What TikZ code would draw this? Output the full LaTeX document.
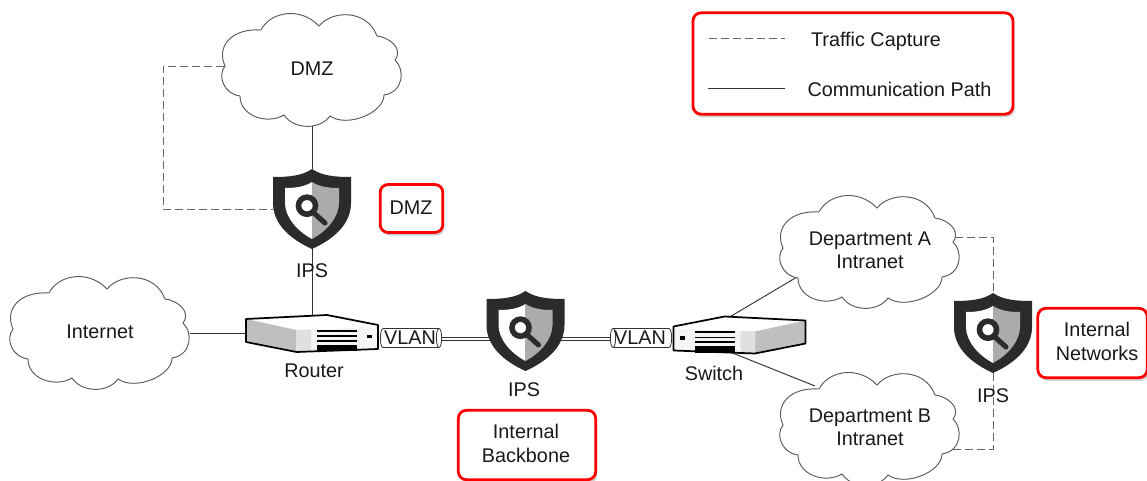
\documentclass[tikz,border=0pt]{standalone}
\usepackage{fontspec}
\setmainfont{Liberation Sans}
\usetikzlibrary{backgrounds, shadows}

\definecolor{shielddark}{HTML}{2B2B2B}
\definecolor{shieldgrey}{HTML}{ABABAB}

\tikzset{
    commpath/.style={draw=black!80, line width=0.7pt},
    tappath/.style={draw=black!60, line width=0.7pt, dash pattern=on 6pt off 3pt},
    tagtext/.style={font=\fontsize{14.85}{17.6}\selectfont, text=black!90, align=center, inner sep=0pt},
    redbox/.style={draw=red, line width=2.1pt, rounded corners=6pt, fill=white,
        drop shadow={shadow xshift=1.2pt, shadow yshift=-2.4pt, fill=black, opacity=0.18}},
    cloudline/.style={draw=black!65, line width=0.7pt, fill=white},
    devicebox/.style={minimum width=99pt, minimum height=27.5pt, inner sep=0pt},
    shieldbox/.style={minimum width=58.5pt, minimum height=60pt, inner sep=0pt},
    cloudbox/.style={tagtext, minimum width=135pt, minimum height=85pt},
}

% cloud with its text: name, x, y, text
\newcommand{\netcloud}[4]{
    \begin{scope}[shift={(#2,#3)}]
        \path[cloudline] (-51,-38) .. controls (-42,-56) and (-12,-62) .. (7,-42)
            .. controls (20,-58) and (55,-59) .. (65,-32)
            .. controls (76,-31) and (92,-20) .. (83,-8)
            .. controls (93,1) and (92,24) .. (72,27)
            .. controls (72,45) and (35,60) .. (18,48)
            .. controls (8,62) and (-18,62) .. (-28,47)
            .. controls (-45,57) and (-72,48) .. (-72,28)
            .. controls (-88,26) and (-95,8) .. (-87,-2)
            .. controls (-96,-22) and (-80,-40) .. (-51,-38) -- cycle;
        \node[cloudbox] (#1) at (0,0.5) {#4};
    \end{scope}
}

% shield with magnifier: name, x, y
\newcommand{\ipsshield}[3]{
    \begin{scope}[shift={(#2,#3)}]
        \fill[shielddark] (0,-40) .. controls (-10,-33) and (-24,-32) .. (-39,-32)
            -- (-39,-6) .. controls (-39,15) and (-22,30) .. (0,40)
            .. controls (22,30) and (39,15) .. (39,-6)
            -- (39,-32) .. controls (24,-32) and (10,-33) .. (0,-40) -- cycle;
        \fill[white] (0,-27) .. controls (-8,-22) and (-17,-21) .. (-27,-21)
            -- (-27,-6) .. controls (-27,8) and (-15,22) .. (0,30) -- cycle;
        \fill[shieldgrey] (0,-27) .. controls (8,-22) and (17,-21) .. (27,-21)
            -- (27,-6) .. controls (27,8) and (15,22) .. (0,30) -- cycle;
        \draw[shielddark, line width=3.8pt, line cap=round] (3,5) -- (13,14);
        \draw[shielddark, line width=4.2pt, fill=white] (-5,-3.3) circle (6.4pt);
        \node[shieldbox] (#1) at (0,0) {};
    \end{scope}
}

% router or switch box: name, x, y, 1 or -1 for the side it faces
\newcommand{\netdevice}[4]{
    \begin{scope}[shift={(#2,#3)}, xscale=#4]
        \fill[white] (-66,-14.5) -- (15,-18.5) -- (66,-8.5) -- (66,-6.5) -- (-15.5,-3.5) -- cycle;
        \fill[black!25] (-66,-14.5) -- (-15.5,-3.5) -- (-15.5,18.5) -- (-66,8.5) -- cycle;
        \fill[black!4] (-15.5,-3.5) -- (66,-6.5) -- (66,15.5) -- (-15.5,18.5) -- cycle;
        \fill[black!12] (-15.5,-3.5) -- (-1,-4) -- (-1,18) -- (-15.5,18.5) -- cycle;
        \fill[black] (5,-4) rectangle (45,-2);
        \fill[black] (5,1.5) rectangle (45,3);
        \fill[black] (5,6) rectangle (45,8);
        \fill[black] (5,11) rectangle (45,17.5);
        \fill[black] (55,1) rectangle (60,4.5);
        \draw[black, line width=1.3pt, line join=round] (-66,-14.5) -- (15,-18.5) -- (66,-8.5)
            -- (66,15.5) -- (-15.5,18.5) -- (-66,8.5) -- cycle;
        \node[devicebox] (#1) at (0,0) {};
    \end{scope}
}

% VLAN tube: name, x, y, 1 or -1 for the end that shows its ring
\newcommand{\vlantube}[4]{
    \begin{scope}[shift={(#2,#3)}, xscale=#4]
        \draw[black!80, line width=0.6pt, fill=white] (28,-9.5)
            arc[start angle=90, end angle=-90, x radius=2pt, y radius=7.1pt]
            -- (-28,9.5)
            arc[start angle=270, end angle=90, x radius=2pt, y radius=7.1pt] -- cycle;
        \draw[black!80, line width=0.6pt] (28,-9.5)
            arc[start angle=90, end angle=270, x radius=2pt, y radius=7.1pt];
    \end{scope}
    \node[tagtext] (#1) at (#2-1,#3) {VLAN};
}

\begin{document}
\begin{tikzpicture}[x=0.75pt, y=-0.75pt]
    \useasboundingbox (0,0) rectangle (1147,481);

    % Clouds
    \netcloud{dmzcloud}{312}{68}{DMZ}
    \netcloud{internet}{100}{331}{Internet}
    \netcloud{depta}{870}{250}{Department A\\Intranet}
    \netcloud{deptb}{870}{427}{Department B\\Intranet}

    % Devices
    \netdevice{router}{312}{333.5}{1}
    \netdevice{switch}{739.5}{335}{-1}
    \ipsshield{ipsdmz}{312}{209}
    \ipsshield{ipscore}{525.5}{331}
    \ipsshield{ipslan}{993}{333}
    \vlantube{vlanleft}{411}{338}{1}
    \vlantube{vlanright}{641}{338}{-1}

    % Device labels
    \node[tagtext] (ipsdmztag) at (312,270.5) {IPS};
    \node[tagtext] (ipscoretag) at (524,389.5) {IPS};
    \node[tagtext] (ipslantag) at (993,395.5) {IPS};
    \node[tagtext] (routertag) at (314,371) {Router};
    \node[tagtext] (switchtag) at (714,373) {Switch};

    % Free ends on the cloud outlines and device edges
    \coordinate (dmzelbowtop) at (163,66);
    \coordinate (dmzelbowlow) at (163,209);
    \coordinate (deptatap) at (955,237);
    \coordinate (deptbtap) at (945,449);
    \coordinate (deptalink) at (797,277);
    \coordinate (deptblink) at (815,386);
    \coordinate (switchtop) at (728,318);
    \coordinate (switchlow) at (730,352);
    \coordinate (dmztap) at (224,66);

    % Connectors
    \begin{scope}[on background layer]
        \draw[commpath] (dmzcloud.south) -- (ipsdmz.north);
        \draw[commpath] (ipsdmz.south) -- (router.north);
        \draw[commpath] (internet.east |- router.west) -- (router.west);
        \draw[commpath] (switchtop) -- (deptalink);
        \draw[commpath] (switchlow) -- (deptblink);
        \draw[tappath] (dmztap) -- (dmzelbowtop) -- (dmzelbowlow) -- (ipsdmz.west |- dmzelbowlow);
        \draw[tappath] (deptatap) -| (ipslan.north);
        \draw[tappath] (ipslan.south) |- (deptbtap);
        \draw[commpath, double, double distance=1.4pt, line width=0.5pt]
            (vlanleft.center |- 0,339) -- (ipscore.center |- 0,339);
        \draw[commpath, double, double distance=1.4pt, line width=0.5pt]
            (ipscore.center |- 0,339) -- (vlanright.center |- 0,339);
    \end{scope}

    % Red tags
    \node[redbox, minimum width=240pt, minimum height=76pt] (legend) at (853,63.5) {};
    \node[redbox, minimum width=47pt, minimum height=36pt] (dmzbox) at (411.5,208.5) {};
    \node[redbox, minimum width=103pt, minimum height=52pt] (corebox) at (527,445) {};
    \node[redbox, minimum width=82pt, minimum height=52pt] (lanbox) at (1092.5,343) {};
    \node[tagtext] (dmzboxtag) at (411,207.5) {DMZ};
    \node[tagtext] (coreboxtag) at (526,443.5) {Internal\\Backbone};
    \node[tagtext] (lanboxtag) at (1097,341.5) {Internal\\Networks};

    % Legend
    \coordinate (tapkeyleft) at (709,38);
    \coordinate (tapkeyright) at (785,38);
    \coordinate (commkeyleft) at (708,88);
    \coordinate (commkeyright) at (785,88);
    \draw[tappath] (tapkeyleft) -- (tapkeyright);
    \draw[commpath] (commkeyleft) -- (commkeyright);
    \node[tagtext] (tapkeytag) at (876,41) {Traffic Capture};
    \node[tagtext] (commkeytag) at (899.5,89) {Communication Path};
\end{tikzpicture}
\end{document}
